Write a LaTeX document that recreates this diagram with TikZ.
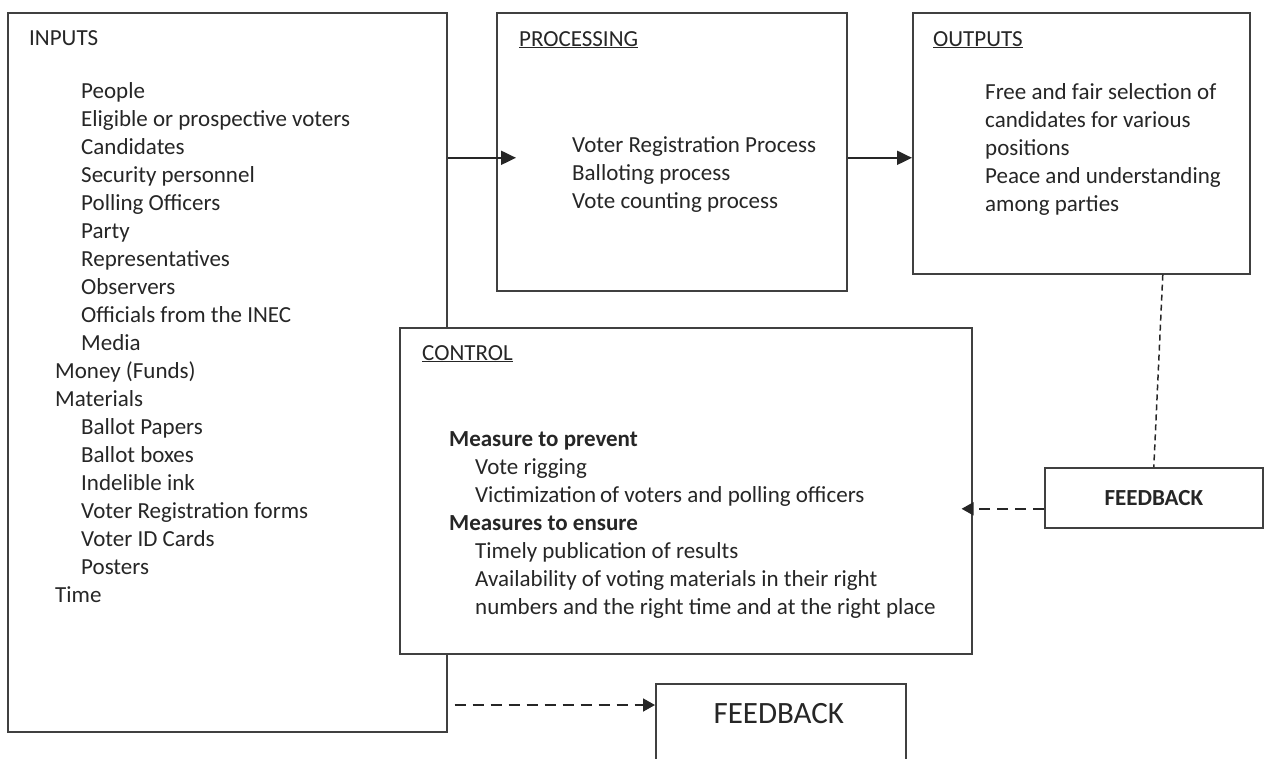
\documentclass[tikz,border=0pt]{standalone}
\usepackage{fontspec}
\setmainfont{Carlito}
\usetikzlibrary{arrows.meta, positioning}

\newcommand{\ind}{\hspace*{26pt}}

\begin{document}
\begin{tikzpicture}[
    x=1pt, y=-1pt,
    box/.style={rectangle, draw=black!75, line width=1.6pt, fill=white,
                anchor=north west, inner sep=0pt},
    lst/.style={anchor=base west, inner sep=0pt, align=left, text=black!85,
                font=\fontsize{23}{28}\selectfont},
    arr/.style={-{Triangle[length=15pt, width=14pt]}, line width=2pt, black!85},
    darr/.style={-{Triangle[length=12pt, width=13pt]}, line width=1.8pt,
                 black!85, dash pattern=on 11pt off 7pt},
    dline/.style={line width=1.5pt, black!85, dash pattern=on 6pt off 4pt}
  ]
  \clip (0,0) rectangle (1264,758);

  % boxes
  \node[box, minimum width=439pt, minimum height=719pt] (inputs) at (7,12) {};
  \node[box, minimum width=350pt, minimum height=278pt] (proc) at (496,12) {};
  \node[box, minimum width=337pt, minimum height=261pt] (outp) at (912,12) {};
  \node[box, minimum width=572pt, minimum height=326pt] (ctrl) at (399,327) {};
  \node[box, minimum width=218pt, minimum height=60pt, text=black!85,
        font=\fontsize{23}{26}\selectfont\bfseries] (fbr) at (1044,467) {FEEDBACK};
  \node[box, minimum width=250pt, minimum height=110pt] (fbb) at (655,683) {};

  % texts (multi-line nodes sit on the baseline of their last line)
  \node[lst] (inT) at ([shift={(22,33)}]inputs.north west) {INPUTS};
  \node[lst] (inL) at ([shift={(48,590)}]inputs.north west)
    {\ind People\\ \ind Eligible or prospective voters\\ \ind Candidates\\
     \ind Security personnel\\ \ind Polling Officers\\ \ind Party\\
     \ind Representatives\\ \ind Observers\\ \ind Officials from the INEC\\
     \ind Media\\ Money (Funds)\\ Materials\\ \ind Ballot Papers\\
     \ind Ballot boxes\\ \ind Indelible ink\\ \ind Voter Registration forms\\
     \ind Voter ID Cards\\ \ind Posters\\ Time};

  \node[lst] (prT) at ([shift={(23,34)}]proc.north west) {\underline{PROCESSING}};
  \node[lst] (prL) at ([shift={(76,196)}]proc.north west)
    {Voter Registration Process\\ Balloting process\\ Vote counting process};

  \node[lst] (ouT) at ([shift={(21,34)}]outp.north west) {\underline{OUTPUTS}};
  \node[lst] (ouL) at ([shift={(73,199)}]outp.north west)
    {Free and fair selection of\\ candidates for various\\ positions\\
     Peace and understanding\\ among parties};

  \node[lst] (ctT) at ([shift={(23,33)}]ctrl.north west) {\underline{CONTROL}};
  \node[lst] (ctL) at ([shift={(50,287)}]ctrl.north west)
    {\textbf{Measure to prevent}\\ \ind Vote rigging\\
     \ind Victimization\,of voters and polling officers\\
     \textbf{Measures to ensure}\\ \ind Timely publication of results\\
     \ind Availability of voting materials in their right\\
     \ind numbers and the right time and at the right place};

  \node[lst, anchor=base, font=\fontsize{31}{34}\selectfont] (fbT)
    at ([shift={(-2,40)}]fbb.north) {FEEDBACK};

  % connectors
  \coordinate (procin) at ([yshift=-6pt]proc.west);
  \coordinate (fbout) at ([yshift=-11pt]fbr.west);
  \coordinate (fbin) at ([yshift=-22pt]fbb.north west);
  \draw[arr, shorten >=-20pt] (inputs.east |- procin) -- (procin);
  \draw[arr] (proc.east |- procin) -- (outp.west |- procin);
  \draw[dline] ([xshift=81.5pt]outp.south) -- (fbr.north);
  \draw[darr, shorten >=-11pt] (fbout) -- (ctrl.east |- fbout);
  \draw[darr, shorten <=7pt] (inputs.east |- fbin) -- (fbin);
\end{tikzpicture}
\end{document}
